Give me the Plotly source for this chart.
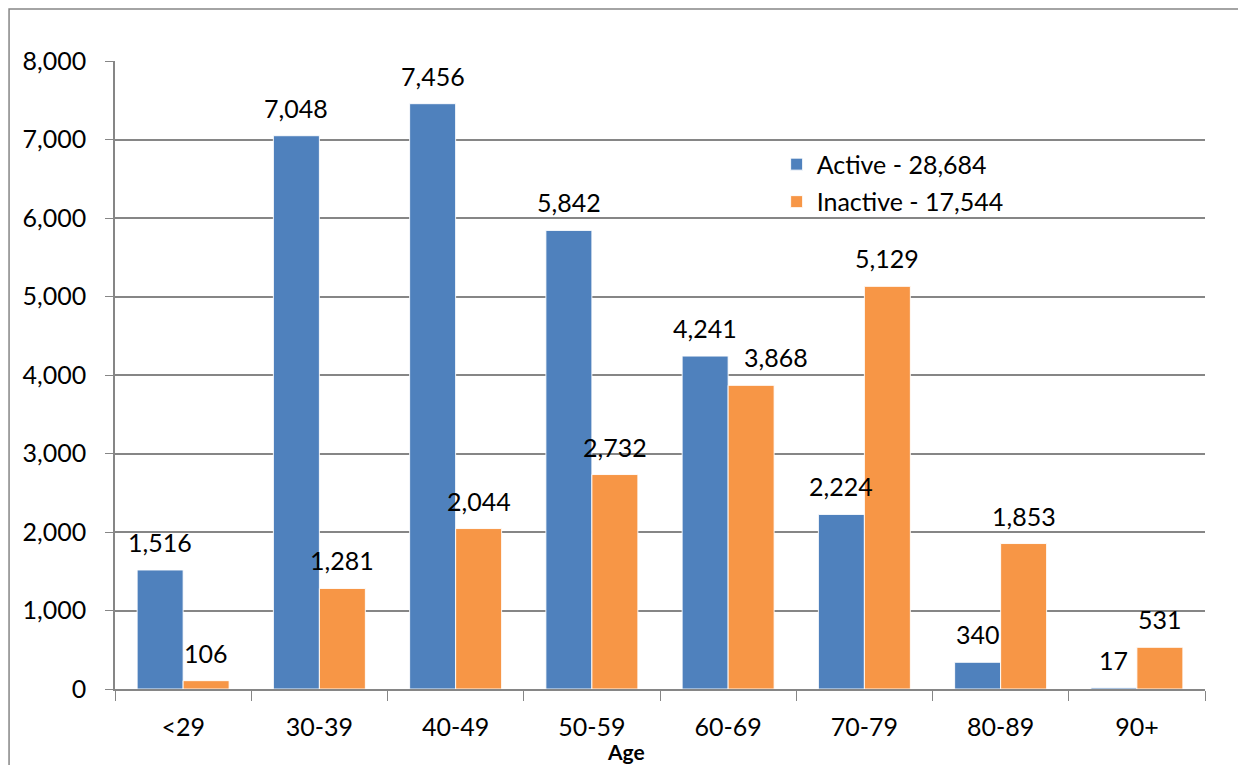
import plotly.graph_objects as go

ages = ["<29", "30-39", "40-49", "50-59", "60-69", "70-79", "80-89", "90+"]
active = [1516, 7048, 7456, 5842, 4241, 2224, 340, 17]
inactive = [106, 1281, 2044, 2732, 3868, 5129, 1853, 531]
active_name = "Active - 28,684"
inactive_name = "Inactive - 17,544"

BLUE, ORANGE = "#4F81BD", "#F79646"
GRID = "#868686"
FONT = "Lato, 'Open Sans', sans-serif"
BARGAP = 0.325
PLOT_W = 1090  # plot-area width in px (1246 - margins)
# Excel pushed one label sideways to dodge its neighbour
LABEL_NUDGE = {("inactive", "60-69"): 25}

fig = go.Figure()
for vals, name, col in [(active, active_name, BLUE), (inactive, inactive_name, ORANGE)]:
    fig.add_trace(go.Bar(
        x=ages, y=vals, name=name, legendgroup=name,
        marker=dict(color=col, line=dict(color="rgba(255,255,255,0.9)", width=1))))

# data labels, Excel-style: centred over each bar, a little above its top
half = (1 - BARGAP) / 4 * PLOT_W / len(ages)
for key, vals, dx in [("active", active, -half), ("inactive", inactive, half)]:
    for a, v in zip(ages, vals):
        fig.add_annotation(x=a, y=v, text=f"{v:,}", showarrow=False,
                           xshift=dx + LABEL_NUDGE.get((key, a), 0),
                           yshift=11, yanchor="bottom",
                           font=dict(size=25, color="#000000"))

fig.add_annotation(text="<b>Age</b>", xref="paper", yref="paper",
                   x=0.469, y=-0.099, yanchor="middle", showarrow=False,
                   font=dict(size=21))

fig.update_layout(
    width=1246, height=765,
    margin=dict(l=107, r=49, t=53, b=84),
    barmode="group", bargap=BARGAP, bargroupgap=0,
    plot_bgcolor="white", paper_bgcolor="white",
    font=dict(family=FONT, size=25, color="#000000"),
    showlegend=True,
    legend=dict(x=0.607, y=0.872, xanchor="left", yanchor="top",
                bgcolor="rgba(0,0,0,0)", font=dict(size=25), itemwidth=30,
                traceorder="grouped", tracegroupgap=2),
)
fig.update_xaxes(
    showline=True, linecolor=GRID, linewidth=1.5,
    ticks="outside", tickson="boundaries", ticklen=10, tickcolor=GRID,
    tickfont=dict(size=25), ticklabelstandoff=15)
fig.update_yaxes(
    range=[0, 8000], dtick=1000, tickformat=",",
    showline=True, linecolor=GRID, linewidth=1.5,
    showgrid=True, gridcolor=GRID, gridwidth=1.5, zeroline=False,
    ticks="outside", ticklen=8, tickcolor=GRID,
    tickfont=dict(size=25), ticklabelstandoff=14)

# chart outer border
fig.add_shape(type="rect", xref="paper", yref="paper",
              x0=-0.0972, x1=1.1, y0=-0.3, y1=1.083,
              line=dict(color=GRID, width=1.5), layer="below")

fig.write_html("out.html")
